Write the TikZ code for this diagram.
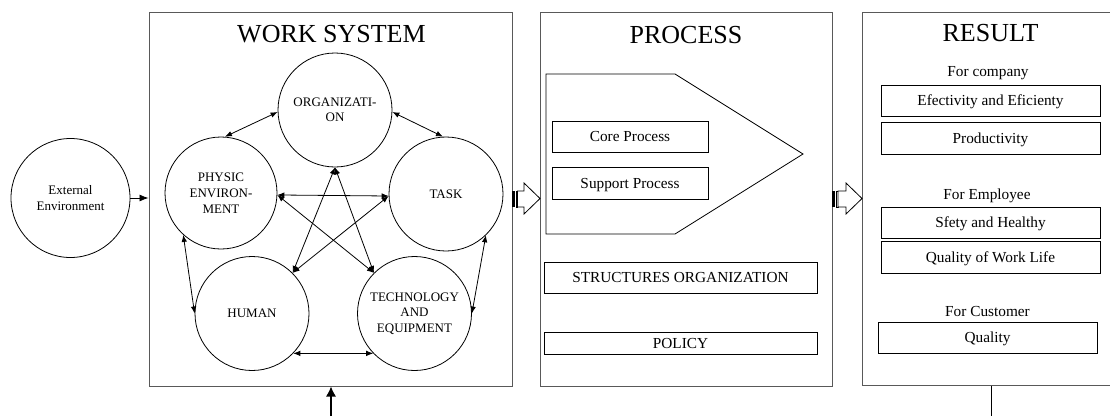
\documentclass[tikz,border=0pt]{standalone}
\usepackage{fontspec}
\setmainfont{Liberation Serif}
\usetikzlibrary{arrows.meta}
\begin{document}
\begin{tikzpicture}[x=1pt,y=-1pt,
  outer/.style={draw=black!65, line width=1pt, rectangle, inner sep=0pt},
  circ/.style={draw, circle, line width=0.8pt, minimum size=114pt, inner sep=0pt, align=center, font=\fontsize{13}{15.5}\selectfont},
  ibox/.style={draw, line width=0.8pt, rectangle, inner sep=0pt, text height=10pt, text depth=0pt, font=\fontsize{15.3}{18}\selectfont},
  title/.style={font=\fontsize{26}{30}\selectfont, anchor=base, inner sep=0pt},
  lbl/.style={font=\fontsize{15.3}{18}\selectfont, anchor=base, inner sep=0pt},
  link/.style={{Latex[length=7pt,width=5.5pt]}-{Latex[length=7pt,width=5.5pt]}, line width=0.8pt},
  blockarrow/.style={draw, line width=0.8pt, fill=white},
]
\clip (0,0) rectangle (1110,416);

% ---------- outer boxes ----------
\node[outer, minimum width=363pt, minimum height=374pt] (work) at (330.5,199) {};
\node[outer, minimum width=292pt, minimum height=374pt] (proc) at (686,199) {};
\node[outer, minimum width=256pt, minimum height=373pt] (result) at (990,198.5) {};

% ---------- titles ----------
\node[title] (wst) at (331.5,42) {WORK SYSTEM};
\node[title] (pst) at (686,43) {PROCESS};
\node[title] (rst) at (990.5,41) {RESULT};

% ---------- external environment ----------
\node[circ, minimum size=119pt, font=\fontsize{13}{16}\selectfont] (ext) at (70.5,198) {External\\Environment};
\draw[-{Latex[length=9pt,width=7pt]}, line width=0.8pt] (ext.east) -- (ext.east -| work.west);

% ---------- work system circles ----------
\node[circ] (org) at (335,110) {ORGANIZATI-\\ON};
\node[circ, minimum size=112pt, font=\fontsize{13}{16}\selectfont] (phys) at (221,193) {PHYSIC\\ENVIRON-\\MENT};
\node[circ] (task) at (446,194) {TASK};
\node[circ] (human) at (252,313.5) {HUMAN};
\node[circ] (tech) at (414.5,313.5) {TECHNOLOGY\\AND\\EQUIPMENT};

\draw[link] (org.182) -- (phys.86);
\draw[link] (org.358) -- (task.93);
\draw[link] (phys.-2) -- (task.182);
\draw[link] (org.south) -- (human.45);
\draw[link] (org.south) -- (tech.135);
\draw[link] (phys.-2) -- (tech.135);
\draw[link] (task.182) -- (human.45);
\draw[link] (phys.228) -- (human.west);
\draw[link] (task.314) -- (tech.east);
\draw[link] (human.-44) -- (tech.224);

% bottom input arrow
\coordinate (wb) at (331,416);
\draw[-{Latex[length=10pt,width=10pt]}, line width=1.2pt] (wb) -- (wb |- work.south);

% ---------- process content ----------
\draw[line width=0.8pt] (546,74) -- (675,74) -- (803,154) -- (675,234) -- (546,234) -- cycle;
\node[ibox, minimum width=156pt, minimum height=31pt] (core) at (630,136.5) {Core Process};
\node[ibox, minimum width=156pt, minimum height=32pt] (supp) at (630,183) {Support Process};
\node[ibox, minimum width=273pt, minimum height=31pt] (struct) at (680.5,277.5) {STRUCTURES ORGANIZATION};
\node[ibox, minimum width=273pt, minimum height=22pt] (policy) at (680.5,343) {POLICY};

% ---------- result content ----------
\node[lbl] (fcomp) at (988,76) {For company};
\node[ibox, minimum width=219pt, minimum height=31pt] (eff) at (990.5,100.5) {Efectivity and Eficienty};
\node[ibox, minimum width=219pt, minimum height=32pt] (prod) at (990.5,138) {Productivity};
\node[lbl] (femp) at (987,199) {For Employee};
\node[ibox, minimum width=219pt, minimum height=31pt] (safe) at (990.5,222.5) {Sfety and Healthy};
\node[ibox, minimum width=219pt, minimum height=32pt] (qwl) at (990.5,257) {Quality of Work Life};
\node[lbl] (fcust) at (987.5,316) {For Customer};
\node[ibox, minimum width=219pt, minimum height=31pt] (qual) at (987.5,337.5) {Quality};

\coordinate (rb) at (991,416);
\draw[line width=1pt] (rb |- result.south) -- (rb);

% ---------- striped block arrows ----------
\fill (512,191) rectangle (515,207);
\draw[line width=0.8pt] (516,191) rectangle (517.5,207);
\draw[blockarrow] (517.5,191) -- (524,191) -- (524,183) -- (540,198.5) -- (524,214) -- (524,207) -- (517.5,207) -- cycle;

\fill (832,191) rectangle (835,207);
\draw[line width=0.8pt] (836,191) rectangle (838,207);
\draw[blockarrow] (838,191) -- (846,191) -- (846,183) -- (862,198.5) -- (846,214) -- (846,207) -- (838,207) -- cycle;
\end{tikzpicture}
\end{document}
